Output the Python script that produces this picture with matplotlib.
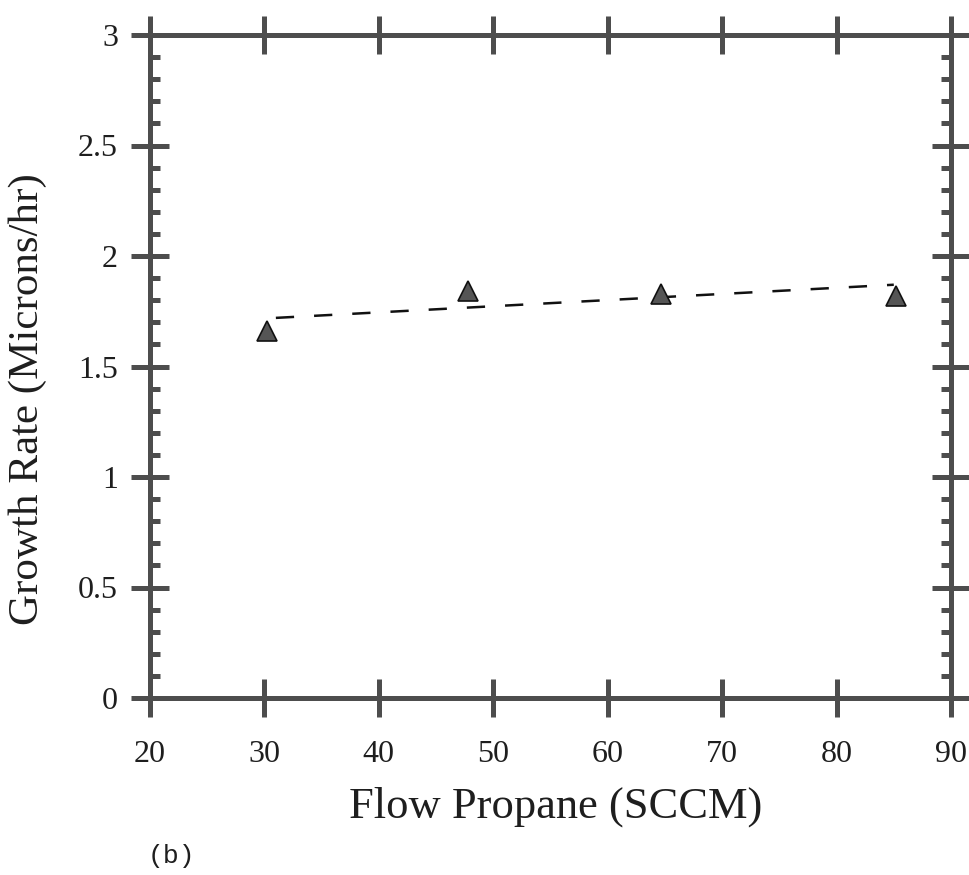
import matplotlib
matplotlib.use("Agg")
import matplotlib.pyplot as plt
from matplotlib.ticker import MultipleLocator, FixedLocator

# Data
flow_propane = [30.2, 47.8, 64.7, 85.2]
growth_rate = [1.66, 1.84, 1.83, 1.82]
fit_x = [31.0, 85.0]
fit_y = [1.72, 1.87]
x_ticks = [20, 30, 40, 50, 60, 70, 80, 90]
y_ticks = [0, 0.5, 1, 1.5, 2, 2.5, 3]
y_tick_labels = ["0", "0.5", "1", "1.5", "2", "2.5", "3"]

W, H = 969, 875
fig = plt.figure(figsize=(W / 100, H / 100), dpi=100)
left, right, top, bottom = 150, 951, 35, 698
ax = fig.add_axes([left / W, (H - bottom) / H, (right - left) / W, (bottom - top) / H])

axis_color = "#4d4d4d"
text_color = "#1e1e1e"
serif = "Liberation Serif"

ax.plot(fit_x, fit_y, color="#111111", lw=1.8, linestyle=(0, (7.3, 8.0)), zorder=2)
ax.plot(flow_propane, growth_rate, linestyle="none", marker="^", ms=15,
        markerfacecolor="#555555", markeredgecolor="#111111", markeredgewidth=1.2, zorder=3)

ax.set_xlim(20, 90)
ax.set_ylim(0, 3)

for s in ax.spines.values():
    s.set_linewidth(3.6)
    s.set_color(axis_color)
    s.set_capstyle("round")

ax.xaxis.set_major_locator(FixedLocator(x_ticks))
ax.yaxis.set_major_locator(FixedLocator(y_ticks))
ax.yaxis.set_minor_locator(MultipleLocator(0.1))
ax.set_yticklabels(y_tick_labels)

ax.tick_params(axis="both", which="major", direction="inout", length=27, width=3.6,
               color=axis_color, top=True, right=True, labelsize=23,
               labelcolor=text_color)
ax.tick_params(axis="x", which="major", pad=17)
ax.tick_params(axis="y", which="major", pad=9.5)
ax.tick_params(axis="y", which="minor", direction="in", length=7, width=3.6,
               color=axis_color, left=True, right=True)
ax.tick_params(axis="x", which="minor", bottom=False, top=False)

for lab in ax.get_xticklabels() + ax.get_yticklabels():
    lab.set_fontfamily(serif)

ax.set_xlabel("Flow Propane (SCCM)", fontsize=32, fontfamily=serif, color=text_color)
ax.xaxis.set_label_coords((556 - left) / (right - left), -(787 - bottom) / (bottom - top))
ax.set_ylabel("Growth Rate (Microns/hr)", fontsize=31, fontfamily=serif, color=text_color)
ax.yaxis.set_label_coords(-(left - 47) / (right - left), (bottom - 399) / (bottom - top))

fig.text(148 / W, 1 - 856 / H, "(b)", fontsize=19, fontfamily="Liberation Mono",
         color=text_color, va="center", ha="left")

fig.savefig("out.png", dpi=100)
